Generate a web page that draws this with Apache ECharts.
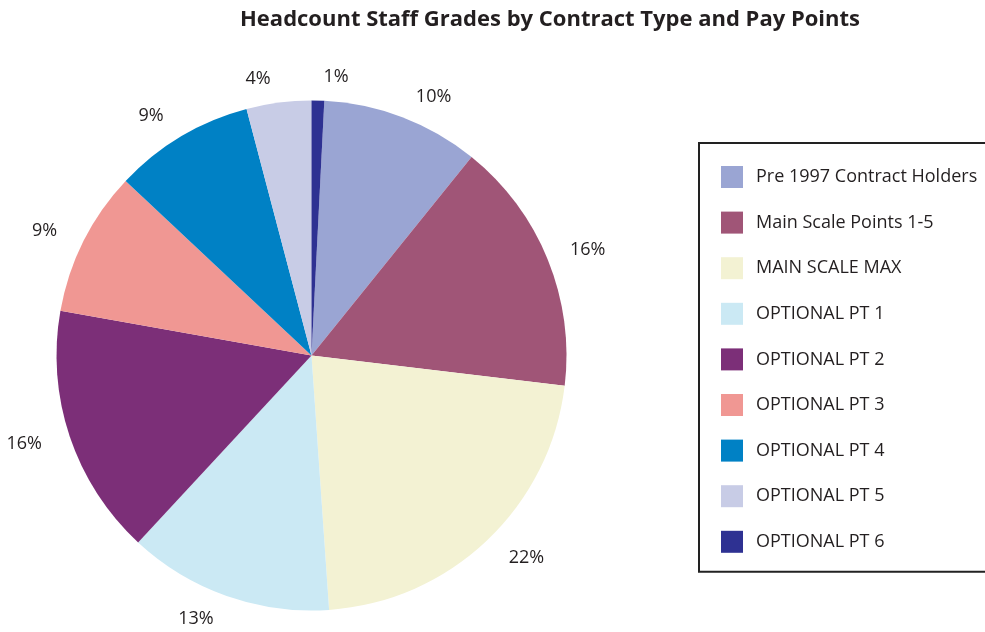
<!DOCTYPE html>
<html>
<head>
<meta charset="utf-8">
<style>
  html, body { margin: 0; padding: 0; background: #fff; }
  #chart { width: 985px; height: 632px; }
</style>
<script src="https://cdn.jsdelivr.net/npm/echarts@6/dist/echarts.min.js"></script>
</head>
<body>
<div id="chart"></div>
<script>
// categories in legend order
var categories = [
  'Pre 1997 Contract Holders',
  'Main Scale Points 1-5',
  'MAIN SCALE MAX',
  'OPTIONAL PT 1',
  'OPTIONAL PT 2',
  'OPTIONAL PT 3',
  'OPTIONAL PT 4',
  'OPTIONAL PT 5',
  'OPTIONAL PT 6'
];
// share of headcount (%)
var values = [10.0, 16.1, 22.0, 13.0, 15.9, 9.2, 8.9, 4.1, 0.8];
var colors = ['#9aa5d3', '#a05577', '#f3f2d3', '#cbe9f4', '#7c2f78', '#f09793', '#0081c5', '#c8cce6', '#2e3192'];

var total = values.reduce(function (a, b) { return a + b; }, 0);
// last slice (OPTIONAL PT 6) sits just right of 12 o'clock
var startAngle = 90 - 360 * values[values.length - 1] / total;

var myChart = echarts.init(document.getElementById('chart'));
var option = {
  animation: false,
  color: colors,
  textStyle: { fontFamily: 'Open Sans', color: '#231f20' },
  title: {
    text: 'Headcount Staff Grades by Contract Type and Pay Points',
    left: 545,
    textAlign: 'center',
    top: 4,
    textStyle: { fontSize: 22, fontWeight: 'bold', color: '#231f20', fontFamily: 'Open Sans' }
  },
  legend: {
    orient: 'vertical',
    left: 699,
    top: 143,
    padding: [23, 40, 19, 22],
    itemWidth: 22,
    itemHeight: 22,
    itemGap: 23.6,
    icon: 'rect',
    borderColor: '#222',
    borderWidth: 2,
    data: categories,
    textStyle: { fontSize: 18, color: '#231f20', padding: [4, 0, 0, 8] }
  },
  series: [{
    type: 'pie',
    center: [311.5, 355.5],
    radius: 255,
    startAngle: startAngle,
    clockwise: true,
    data: categories.map(function (c, i) { return { name: c, value: values[i] }; }),
    label: {
      position: 'outside',
      fontSize: 18,
      color: '#231f20',
      overflow: 'none',
      formatter: function (p) { return Math.round(p.percent) + '%'; }
    },
    labelLine: { show: false, length: 24, length2: 0 },
    emphasis: { disabled: true }
  }]
};
myChart.setOption(option);

window.addEventListener('resize', function () {
  myChart.resize();
});
</script>
</body>
</html>
